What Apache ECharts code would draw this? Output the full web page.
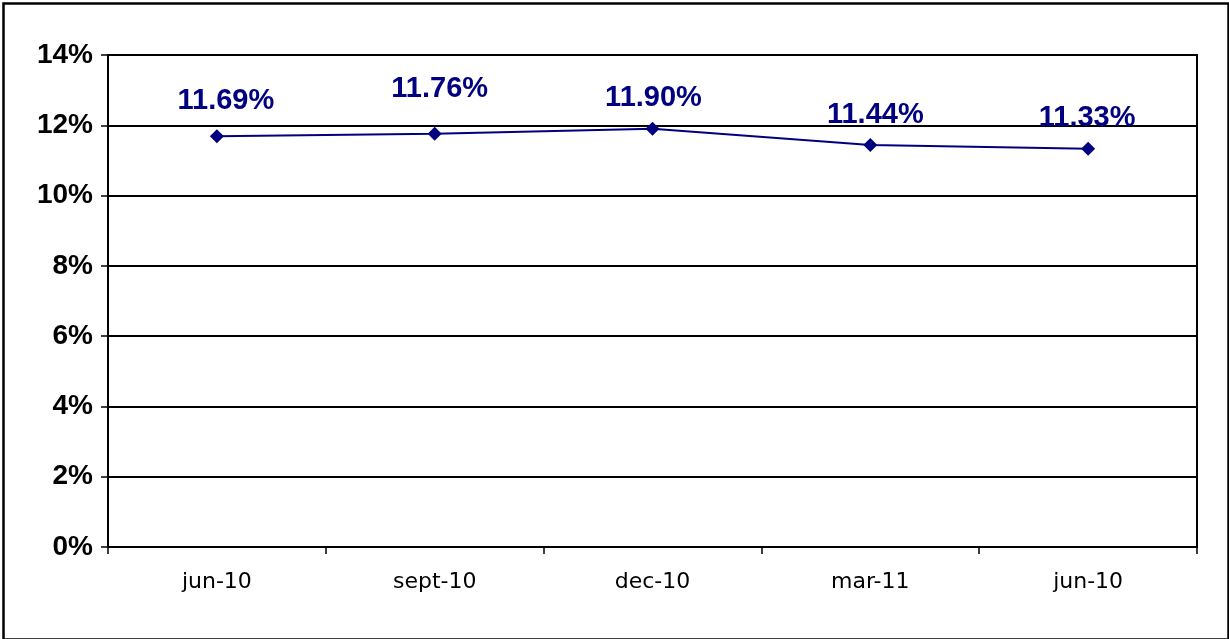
<!DOCTYPE html>
<html>
<head>
<meta charset="utf-8">
<script src="https://cdn.jsdelivr.net/npm/echarts@6/dist/echarts.min.js"></script>
<style>
html,body{margin:0;padding:0;background:#fff;}
#chart{width:1229px;height:639px;}
</style>
</head>
<body>
<div id="chart"></div>
<script>
const categories = ['jun-10', 'sept-10', 'dec-10', 'mar-11', 'jun-10'];
const values = [11.69, 11.76, 11.90, 11.44, 11.33];
const yTicks = { min: 0, max: 14, interval: 2 };

// label placement (style only)
const labelOffsets = [[9, -35], [5, -45], [1, -31], [5, -30], [-1, -31]];

const chart = echarts.init(document.getElementById('chart'), null, { renderer: 'canvas' });
const navy = '#000080';
const boldFont = "'Liberation Sans', Arial, sans-serif";

chart.setOption({
  animation: false,
  backgroundColor: '#ffffff',
  grid: {
    left: 108, right: 32, top: 55, bottom: 92,
    show: true, borderColor: '#000', borderWidth: 2, backgroundColor: 'transparent'
  },
  graphic: [{
    type: 'rect', left: 1, top: 1, silent: true,
    shape: { width: 1225, height: 636 },
    style: { fill: 'none', stroke: '#000', lineWidth: 2.5 }
  }],
  xAxis: {
    type: 'category',
    data: categories,
    boundaryGap: true,
    axisLine: { show: true, lineStyle: { color: '#000', width: 2 } },
    axisTick: { show: true, inside: false, length: 7, alignWithLabel: false, lineStyle: { color: '#000', width: 1.5 } },
    axisLabel: { color: '#000', fontFamily: "'DejaVu Sans'", fontSize: 22, margin: 24 },
    splitLine: { show: false }
  },
  yAxis: {
    type: 'value',
    min: yTicks.min, max: yTicks.max, interval: yTicks.interval,
    axisLine: { show: true, lineStyle: { color: '#000', width: 2 } },
    axisTick: { show: true, length: 7, lineStyle: { color: '#000', width: 1.5 } },
    axisLabel: {
      color: '#000', fontFamily: boldFont, fontWeight: 'bold',
      fontSize: 28, margin: 15, formatter: '{value}%'
    },
    splitLine: { show: true, lineStyle: { color: '#000', width: 2 } }
  },
  series: [{
    type: 'line',
    data: values.map((v, i) => ({
      value: v,
      label: { offset: labelOffsets[i] }
    })),
    symbol: 'diamond',
    symbolSize: 14,
    lineStyle: { color: navy, width: 2 },
    itemStyle: { color: navy },
    label: {
      show: true,
      position: 'inside',
      color: navy,
      fontFamily: boldFont,
      fontWeight: 'bold',
      fontSize: 29,
      formatter: p => p.value.toFixed(2) + '%'
    },
    z: 5
  }]
});
</script>
</body>
</html>
